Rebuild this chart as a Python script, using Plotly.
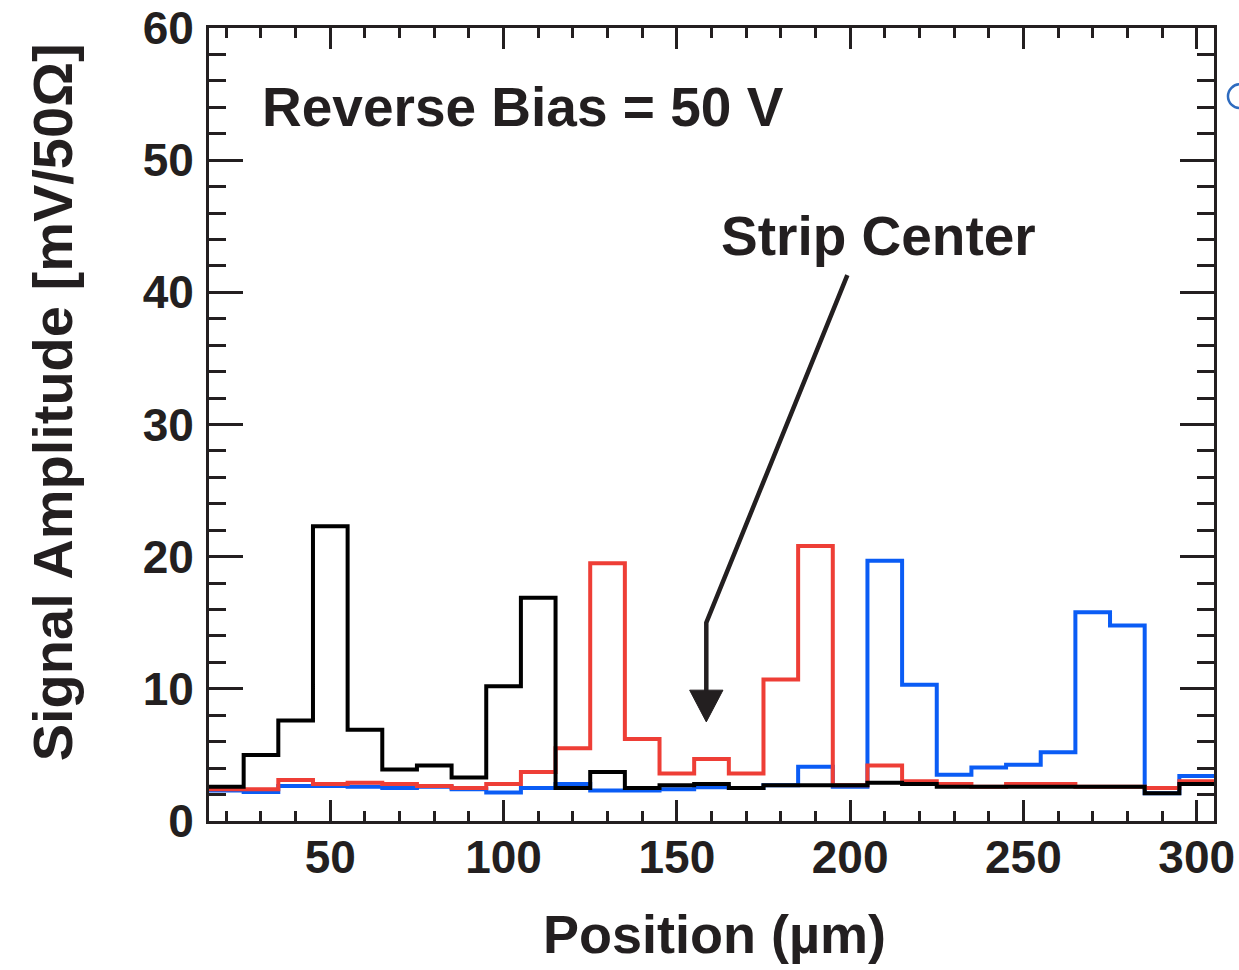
import plotly.graph_objects as go

# Bin edges (µm) and per-bin signal amplitudes (mV/50Ω)
bin_edges = [15, 25, 35, 45, 55, 65, 75, 85, 95, 105, 115, 125, 135, 145, 155,
             165, 175, 185, 195, 205, 215, 225, 235, 245, 255, 265, 275, 285, 295, 305]

black_vals = [2.6, 5.0, 7.6, 22.3, 6.9, 3.9, 4.2, 3.3, 10.2, 16.9, 2.5, 3.7, 2.5, 2.7, 2.8,
              2.5, 2.7, 2.7, 2.7, 2.9, 2.8, 2.6, 2.6, 2.6, 2.6, 2.6, 2.6, 2.1, 2.8]
red_vals = [2.4, 2.4, 3.1, 2.8, 2.9, 2.8, 2.65, 2.5, 2.8, 3.7, 5.5, 19.5, 6.2, 3.6, 4.7,
            3.6, 10.7, 20.8, 2.7, 4.2, 3.0, 2.8, 2.6, 2.8, 2.8, 2.6, 2.6, 2.5, 3.0]
blue_vals = [2.3, 2.2, 2.65, 2.65, 2.6, 2.5, 2.6, 2.4, 2.15, 2.5, 2.8, 2.3, 2.3, 2.4, 2.55,
             2.5, 2.7, 4.1, 2.6, 19.7, 10.3, 3.5, 4.05, 4.25, 5.2, 15.8, 14.8, 2.1, 3.4]

x_ticks = [50, 100, 150, 200, 250, 300]
y_ticks = [0, 10, 20, 30, 40, 50, 60]

TXT = "#231f20"
FONT = "Liberation Sans"

fig = go.Figure()

for vals, col in [(blue_vals, "#0a5cf5"), (red_vals, "#ee3e36"), (black_vals, "#000000")]:
    fig.add_trace(go.Scatter(
        x=bin_edges, y=vals + [vals[-1]],
        mode="lines", line=dict(color=col, width=4, shape="hv"),
        showlegend=False, hoverinfo="skip"))

axis_common = dict(
    showline=True, linewidth=3, linecolor=TXT, mirror="ticks",
    ticks="inside", tickcolor=TXT, tickwidth=2.5,
    showgrid=False, zeroline=False, automargin=False,
    tickfont=dict(family=FONT, size=46, color=TXT, weight="bold"),
)

fig.update_xaxes(
    **axis_common, range=[15, 305], tickvals=x_ticks, ticktext=[str(v) for v in x_ticks],
    ticklen=21, ticklabelstandoff=-6,
    minor=dict(ticks="inside", ticklen=10, dtick=10, tick0=0, tickcolor=TXT, tickwidth=2.5),
)
fig.update_yaxes(
    **axis_common, range=[0, 60], tickvals=y_ticks, ticktext=[str(v) for v in y_ticks],
    ticklen=34, ticklabelstandoff=3,
    minor=dict(ticks="inside", ticklen=17, dtick=2, tick0=0, tickcolor=TXT, tickwidth=2.5),
)

# Arrow pointing to strip center
fig.add_shape(type="path", xref="x", yref="y",
              path="M 199.2,41.3 L 158.5,15 L 158.5,9.8",
              line=dict(color=TXT, width=4.5))
fig.add_shape(type="path", xref="x", yref="y",
              path="M 153.7,9.9 L 163.3,9.9 L 158.5,7.5 Z",
              line=dict(color=TXT, width=1), fillcolor=TXT)

# partial blue circle at right edge
fig.add_shape(type="circle", xref="paper", yref="paper",
              x0=1.0139, x1=1.0378, y0=0.899, y1=0.929,
              line=dict(color="#2e6bbf", width=2.5))

fig.add_annotation(text="Reverse Bias = 50 V", xref="paper", yref="paper",
                   x=0.0507, y=0.900, xanchor="left", yanchor="middle", showarrow=False,
                   font=dict(family=FONT, size=55, color=TXT, weight="bold"))
fig.add_annotation(text="Strip Center", xref="paper", yref="paper",
                   x=0.5074, y=0.738, xanchor="left", yanchor="middle", showarrow=False,
                   font=dict(family=FONT, size=55, color=TXT, weight="bold"))
fig.add_annotation(text="Position (µm)", xref="paper", yref="paper",
                   x=0.5030, y=-0.1425, xanchor="center", yanchor="middle", showarrow=False,
                   font=dict(family=FONT, size=54, color=TXT, weight="bold"))
fig.add_annotation(text="Signal Amplitude [mV/50Ω]", xref="paper", yref="paper",
                   x=-0.1562, y=0.528, xanchor="center", yanchor="middle", showarrow=False,
                   textangle=-90,
                   font=dict(family=FONT, size=56, color=TXT, weight="bold"))

fig.update_layout(
    width=1239, height=970,
    margin=dict(l=209, r=25, t=28, b=149),
    paper_bgcolor="white", plot_bgcolor="white",
)

fig.write_html("out.html")
